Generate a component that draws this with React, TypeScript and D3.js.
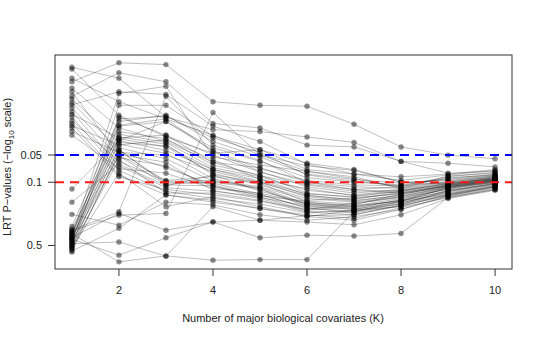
import React from "react";
import * as d3 from "d3";

// number of major biological covariates
const kValues = [1, 2, 3, 4, 5, 6, 7, 8, 9, 10];

// one row per gene set: -log10(LRT p-value) for K = 1..10
const negLog10P: number[][] = [
  [2.27, 2.15, 1.72, 1.58, 1.56, 1.5, 1.44, 1.23, 1.21, 1.17],
  [2.25, 1.74, 1.5, 1.32, 1.36, 1.21, 1.14, 1.0, 0.98, 1.05],
  [2.15, 1.89, 1.7, 1.52, 1.3, 1.12, 1.06, 0.93, 1.07, 1.1],
  [2.11, 2.32, 2.3, 1.89, 1.85, 1.84, 1.64, 1.39, 1.3, 1.26],
  [2.04, 1.6, 1.45, 1.22, 1.16, 1.0, 0.92, 0.88, 0.96, 1.03],
  [2.0, 1.3, 1.02, 1.06, 0.99, 0.78, 0.73, 0.8, 0.9, 0.99],
  [1.95, 2.21, 2.11, 1.65, 1.6, 1.41, 1.39, 1.23, 1.1, 1.12],
  [1.92, 1.44, 1.4, 1.14, 1.04, 0.86, 0.8, 0.85, 0.95, 1.02],
  [1.88, 1.36, 0.98, 1.0, 0.93, 0.73, 0.7, 0.78, 0.87, 0.96],
  [1.855, 2.0, 1.97, 1.62, 1.45, 1.2, 1.09, 1.02, 1.08, 1.13],
  [1.82, 1.27, 1.18, 0.95, 0.86, 0.72, 0.66, 0.74, 0.85, 0.95],
  [1.78, 1.18, 0.94, 0.9, 0.84, 0.69, 0.74, 0.79, 0.94, 1.01],
  [1.75, 1.49, 1.52, 1.3, 1.11, 0.98, 0.92, 0.95, 1.05, 1.08],
  [1.72, 1.13, 0.9, 0.82, 0.76, 0.66, 0.69, 0.76, 0.86, 0.95],
  [1.68, 1.23, 1.01, 1.02, 0.95, 0.8, 0.82, 0.88, 0.97, 1.04],
  [1.65, 1.08, 0.86, 0.78, 0.71, 0.64, 0.6, 0.72, 0.83, 0.92],
  [1.625, 1.41, 1.47, 1.25, 1.03, 0.93, 0.85, 0.9, 0.99, 1.05],
  [1.6, 1.06, 0.92, 0.86, 0.79, 0.7, 0.77, 0.83, 0.92, 1.0],
  [1.56, 1.33, 1.3, 1.12, 1.0, 0.84, 0.79, 0.86, 0.97, 1.03],
  [1.52, 1.15, 1.1, 0.93, 0.88, 0.76, 0.71, 0.81, 0.93, 1.01],
  [0.925, 1.46, 1.67, 1.38, 1.23, 1.05, 1.0, 0.97, 1.04, 1.09],
  [0.78, 1.2, 0.96, 1.08, 0.9, 0.77, 0.75, 0.87, 0.95, 1.02],
  [0.645, 0.526, 0.78, 0.75, 0.64, 0.58, 0.62, 0.7, 0.84, 0.93],
  [0.51, 1.7, 1.73, 1.49, 1.33, 1.08, 1.01, 0.96, 1.06, 1.11],
  [0.48, 1.53, 1.44, 1.16, 1.06, 0.91, 0.86, 0.91, 0.98, 1.04],
  [0.47, 0.673, 1.95, 1.41, 1.24, 1.0, 0.95, 0.93, 1.0, 1.06],
  [0.46, 0.636, 0.655, 1.77, 1.3, 1.18, 1.13, 1.0, 1.02, 1.07],
  [0.45, 1.63, 1.7, 1.34, 1.12, 0.95, 0.88, 0.92, 0.99, 1.04],
  [0.44, 1.48, 1.39, 1.1, 0.97, 0.82, 0.78, 0.84, 0.94, 1.02],
  [0.43, 0.12, 0.186, 0.138, 0.145, 0.145, 0.673, 0.79, 0.88, 0.97],
  [0.42, 1.67, 1.74, 1.45, 1.28, 1.09, 1.03, 0.99, 1.03, 1.08],
  [0.41, 1.42, 1.32, 1.04, 0.92, 0.75, 0.72, 0.8, 0.93, 1.0],
  [0.4, 1.98, 2.06, 1.28, 1.19, 1.12, 1.04, 0.94, 1.01, 1.07],
  [0.39, 1.35, 1.0, 0.99, 0.87, 0.71, 0.68, 0.77, 0.89, 0.98],
  [0.39, 0.655, 0.47, 0.56, 0.58, 0.56, 0.53, 0.64, 0.82, 0.91],
  [0.38, 1.56, 1.48, 1.19, 1.08, 0.88, 0.83, 0.87, 0.96, 1.03],
  [0.37, 0.194, 0.386, 0.562, 0.386, 0.415, 0.405, 0.434, 0.83, 0.92],
  [0.36, 1.62, 1.67, 1.35, 1.15, 1.02, 0.97, 0.96, 1.0, 1.06],
  [0.35, 1.29, 0.97, 0.96, 0.83, 0.74, 0.7, 0.79, 0.91, 0.98],
  [0.34, 1.85, 1.85, 1.51, 1.36, 1.14, 1.09, 1.06, 1.09, 1.14],
  [0.33, 1.5, 1.42, 1.08, 1.0, 0.85, 0.81, 0.89, 0.96, 1.02],
  [0.32, 0.34, 0.183, 0.73, 0.58, 0.63, 0.64, 0.74, 0.86, 0.95],
  [0.31, 1.38, 1.26, 1.01, 0.94, 0.76, 0.74, 0.82, 0.94, 1.0],
  [0.3, 1.72, 1.52, 1.22, 1.07, 0.97, 0.9, 0.91, 0.98, 1.05],
  [0.29, 1.25, 0.88, 0.88, 0.8, 0.67, 0.64, 0.75, 0.9, 0.98],
  [0.28, 1.46, 1.35, 1.14, 1.01, 0.87, 0.84, 0.9, 0.97, 1.03],
  [0.27, 1.1, 0.73, 0.84, 0.73, 0.62, 0.58, 0.7, 0.85, 0.94],
  [0.26, 1.31, 1.22, 0.91, 0.82, 0.68, 0.67, 0.76, 0.91, 0.99],
  [0.24, 0.49, 0.86, 0.8, 0.71, 0.62, 0.69, 0.73, 0.87, 0.96],
  [0.23, 1.34, 1.16, 0.97, 0.85, 0.79, 0.76, 0.84, 0.95, 1.01],
];

const xTicks = [2, 4, 6, 8, 10];
const pTicks = [0.05, 0.1, 0.5];
const pTickLabels = ["0.05", "0.1", "0.5"];
const cutoffs = [0.05, 0.1];
const cutoffColors = ["#0000ff", "#ff1a1a"];

const width = 540;
const height = 339;
const left = 55;
const right = 512;
const top = 55;
const bottom = 269;
const font = "'Liberation Sans', Arial, Helvetica, sans-serif";

export default function App() {
  const x = d3.scaleLinear().domain([0.64, 10.36]).range([left, right]);
  const y = d3.scaleLinear().domain([0.041, 2.406]).range([bottom, top]);

  const line = d3
    .line<number>()
    .x((_, i) => x(kValues[i]))
    .y(d => y(d));

  return (
    <svg
      width={width}
      height={height}
      style={{ position: "absolute", left: 0, top: 0, background: "#fff" }}
      fontFamily={font}
    >
      {/* one grey trace per gene set */}
      <g>
        {negLog10P.map((row, i) => (
          <path
            key={i}
            d={line(row) || ""}
            fill="none"
            stroke="rgba(0,0,0,0.32)"
            strokeWidth={0.8}
          />
        ))}
      </g>
      <g>
        {negLog10P.map((row, i) =>
          row.map((v, j) => (
            <circle
              key={i + "-" + j}
              cx={x(kValues[j])}
              cy={y(v)}
              r={2.7}
              fill="rgba(0,0,0,0.45)"
            />
          ))
        )}
      </g>

      {/* significance cutoffs */}
      {cutoffs.map((p, i) => (
        <line
          key={p}
          x1={left}
          x2={right}
          y1={y(-Math.log10(p))}
          y2={y(-Math.log10(p))}
          stroke={cutoffColors[i]}
          strokeWidth={2}
          strokeDasharray="9,6"
        />
      ))}

      {/* box */}
      <rect
        x={left}
        y={top}
        width={right - left}
        height={bottom - top}
        fill="none"
        stroke="#333"
        strokeWidth={1}
      />

      {/* x axis */}
      {xTicks.map(t => (
        <g key={t}>
          <line x1={x(t)} x2={x(t)} y1={bottom} y2={bottom + 7} stroke="#333" />
          <text x={x(t)} y={294} fontSize={11} textAnchor="middle" fill="#222">
            {t}
          </text>
        </g>
      ))}

      {/* y axis */}
      {pTicks.map((p, i) => (
        <g key={p}>
          <line
            x1={left - 7}
            x2={left}
            y1={y(-Math.log10(p))}
            y2={y(-Math.log10(p))}
            stroke="#333"
          />
          <text
            x={42}
            y={y(-Math.log10(p))}
            dy="0.35em"
            fontSize={11}
            textAnchor="end"
            fill="#222"
          >
            {pTickLabels[i]}
          </text>
        </g>
      ))}

      <text x={283} y={322} fontSize={11} textAnchor="middle" fill="#222">
        Number of major biological covariates (K)
      </text>
      <text
        transform="translate(11,167) rotate(-90)"
        fontSize={11}
        textAnchor="middle"
        fill="#222"
      >
        LRT P−values (−log
        <tspan fontSize={8} dy={3}>
          10
        </tspan>
        <tspan dy={-3}> scale)</tspan>
      </text>
    </svg>
  );
}
